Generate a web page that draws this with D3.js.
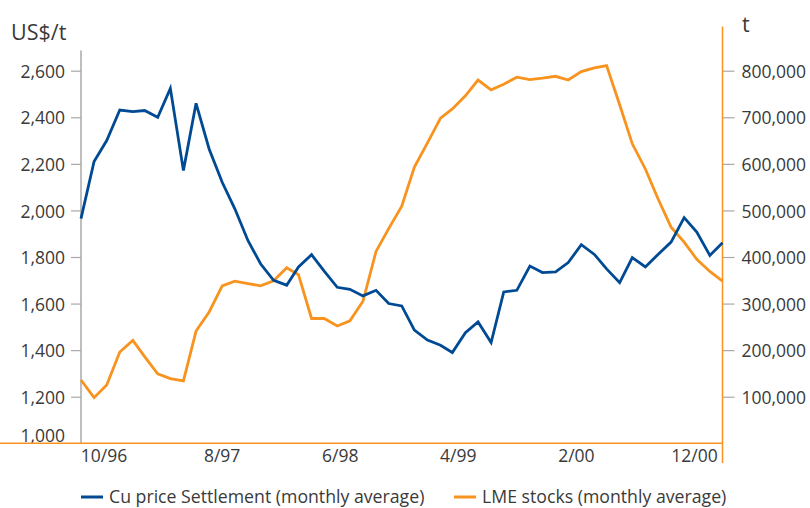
<!DOCTYPE html>
<html>
<head>
<meta charset="utf-8">
<script src="https://cdn.jsdelivr.net/npm/d3@7"></script>
<style>
  body { margin: 0; background: #fff; }
  text { font-family: "Open Sans", sans-serif; fill: #3a3a3a; }
</style>
</head>
<body>
<div id="chart"></div>
<script>
/*
Cu price vs LME stocks, monthly, 10/96 - 12/00
 */

var monthLabels = ["10/96", "8/97", "6/98", "4/99", "2/00", "12/00"];

// US$/t, monthly average settlement
var copperPrice = [1965, 2210, 2300, 2431, 2424, 2429, 2400, 2524, 2171, 2460,
    2264, 2121, 2007, 1871, 1771, 1700, 1679, 1757, 1810, 1739,
    1670, 1661, 1633, 1657, 1600, 1590, 1486, 1443, 1421, 1390,
    1475, 1521, 1433, 1650, 1657, 1761, 1733, 1736, 1776, 1853,
    1811, 1749, 1690, 1797, 1757, 1811, 1864, 1969, 1907, 1807, 1861];

// t, monthly average
var lmeStocks = [136000, 98000, 125000, 196000, 221000, 186000, 149000, 139000, 134000, 241000,
    282000, 338000, 348000, 343000, 338000, 349000, 377000, 362000, 268000, 268000,
    252000, 263000, 305000, 412000, 461000, 509000, 593000, 645000, 698000, 718000,
    746000, 780000, 759000, 771000, 786000, 781000, 784000, 788000, 780000, 798000,
    806000, 811000, 727000, 643000, 589000, 525000, 464000, 432000, 395000, 369000, 348000];

var priceTicks = [1000, 1200, 1400, 1600, 1800, 2000, 2200, 2400, 2600];
var stockTicks = [100000, 200000, 300000, 400000, 500000, 600000, 700000, 800000];

var seriesNames = ["Cu price Settlement (monthly average)", "LME stocks (monthly average)"];
var blue = "#004a93", orange = "#f7931e", grey = "#a8a8a8";

var width = 810, height = 508;
var plotLeft = 81, plotRight = 722.5, plotTop = 70.7, plotBottom = 443.3;

var svg = d3.select("#chart")
    .append("svg")
    .attr("width", width)
    .attr("height", height);

var months = d3.timeMonths(new Date(1996, 9, 1), new Date(2001, 0, 1));

var x = d3.scaleTime()
    .domain([months[0], months[months.length - 1]])
    .range([plotLeft, plotRight]);

var yPrice = d3.scaleLinear().domain([1000, 2600]).range([plotBottom, plotTop]);
var yStock = d3.scaleLinear().domain([0, 800000]).range([plotBottom, plotTop]);

var fmt = d3.format(",");

// left axis
var leftAxis = svg.append("g")
    .attr("transform", "translate(" + plotLeft + ",0)")
    .call(d3.axisLeft(yPrice).tickValues(priceTicks).tickSize(10).tickPadding(6).tickFormat(fmt));
leftAxis.select(".domain").remove();
leftAxis.selectAll(".tick line").attr("stroke", grey).attr("stroke-width", 1.2);
leftAxis.selectAll(".tick text")
    .style("font-size", "17.5px")
    .attr("fill", "#3a3a3a")
    .attr("dy", function(d) { return d === 1000 ? "-0.1em" : "0.38em"; });
leftAxis.selectAll(".tick").filter(function(d) { return d === 1000; }).select("line").remove();
leftAxis.append("line")
    .attr("y1", 50.5).attr("y2", plotBottom)
    .attr("stroke", grey).attr("stroke-width", 1.5);

// right axis
var rightAxis = svg.append("g")
    .attr("transform", "translate(" + plotRight + ",0)")
    .call(d3.axisRight(yStock).tickValues(stockTicks).tickSize(12).tickPadding(7).tickFormat(fmt));
rightAxis.select(".domain").remove();
rightAxis.selectAll(".tick line").attr("stroke", grey).attr("stroke-width", 1.2);
rightAxis.selectAll(".tick text")
    .style("font-size", "17.5px")
    .attr("fill", "#3a3a3a")
    .attr("dy", "0.38em");
rightAxis.append("line")
    .attr("y1", 26.5).attr("y2", 463)
    .attr("stroke", orange).attr("stroke-width", 1.5);

// baseline
svg.append("line")
    .attr("x1", 0).attr("x2", plotRight)
    .attr("y1", plotBottom).attr("y2", plotBottom)
    .attr("stroke", orange).attr("stroke-width", 1.5);

// unit titles
svg.append("text").attr("x", 11).attr("y", 40).style("font-size", "21.5px").text("US$/t");
svg.append("text").attr("x", 742).attr("y", 32).style("font-size", "21.5px").text("t");

// x labels, spread over the axis width
var labelPos = d3.scalePoint()
    .domain(monthLabels)
    .range([x.range()[0] + 23, x.range()[1] - 28]);

svg.append("g").selectAll("text")
    .data(monthLabels)
    .enter()
    .append("text")
    .attr("x", function(d) { return labelPos(d); })
    .attr("y", 462)
    .attr("text-anchor", "middle")
    .style("font-size", "17.5px")
    .text(function(d) { return d; });

// lines
var priceLine = d3.line()
    .x(function(d, i) { return x(months[i]); })
    .y(function(d) { return yPrice(d); });

var stockLine = d3.line()
    .x(function(d, i) { return x(months[i]); })
    .y(function(d) { return yStock(d); });

svg.append("path")
    .datum(lmeStocks)
    .attr("fill", "none")
    .attr("stroke", orange)
    .attr("stroke-width", 2.8)
    .attr("d", stockLine);

svg.append("path")
    .datum(copperPrice)
    .attr("fill", "none")
    .attr("stroke", blue)
    .attr("stroke-width", 2.8)
    .attr("d", priceLine);

// legend
var legendX = [81, 454];
var legend = svg.append("g").selectAll("g")
    .data(seriesNames)
    .enter()
    .append("g")
    .attr("transform", function(d, i) { return "translate(" + legendX[i] + ",497)"; });

legend.append("line")
    .attr("x1", 0).attr("x2", 22)
    .attr("stroke", function(d, i) { return i === 0 ? blue : orange; })
    .attr("stroke-width", 3);

legend.append("text")
    .attr("x", 28)
    .attr("y", 6)
    .style("font-size", "17.7px")
    .text(function(d) { return d; });
</script>
</body>
</html>
